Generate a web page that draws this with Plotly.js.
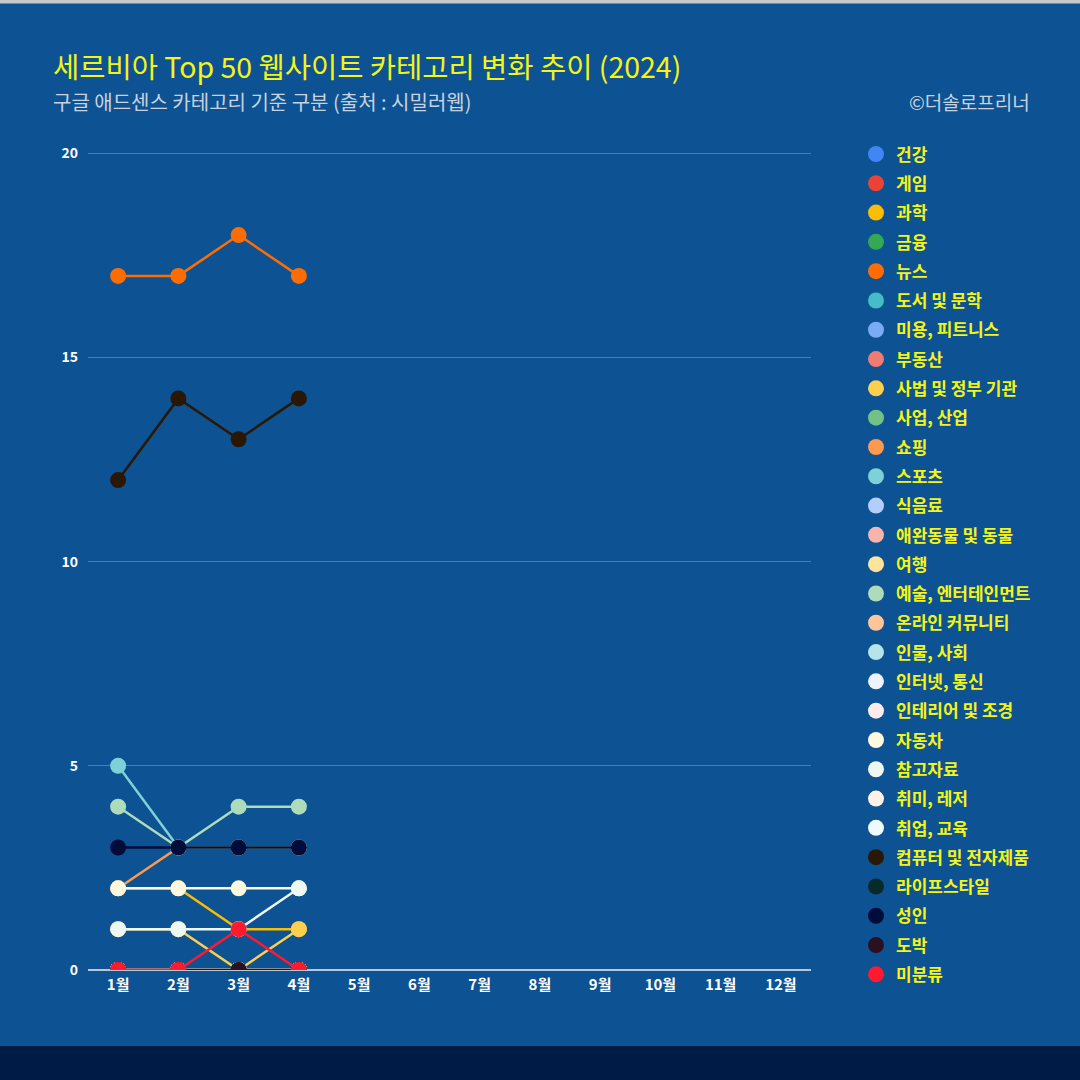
<!DOCTYPE html>
<html>
<head>
<meta charset="utf-8">
<script src="https://cdn.plot.ly/plotly-3.0.1.min.js"></script>
<style>
html,body{margin:0;padding:0;background:#0d5292;}
#chart{width:1080px;height:1080px;}
</style>
</head>
<body>
<div id="chart"></div>
<script>
const months = ["1월","2월","3월","4월","5월","6월","7월","8월","9월","10월","11월","12월"];
const categories = ["건강","게임","과학","금융","뉴스","도서 및 문학","미용, 피트니스","부동산","사법 및 정부 기관","사업, 산업","쇼핑","스포츠","식음료","애완동물 및 동물","여행","예술, 엔터테인먼트","온라인 커뮤니티","인물, 사회","인터넷, 통신","인테리어 및 조경","자동차","참고자료","취미, 레저","취업, 교육","컴퓨터 및 전자제품","라이프스타일","성인","도박","미분류"];
const colors = ["#4285f4","#ea4335","#fbbc04","#34a853","#ff6d01","#46bdc6","#7baaf7","#f07b72","#fcd04f","#71c287","#ff994d","#7ed1d7","#b3cefb","#f7b4ae","#fde49b","#aedcba","#ffc599","#b5e5e8","#ecf3fe","#fdeceb","#fff8e1","#eef7f1","#fff0ea","#eefafc","#2a1805","#082a2a","#000c3a","#2c1020","#ff1a2e"];

const v_건강 = [0,0,0,0];
const v_게임 = [0,0,0,0];
const v_과학 = [2,2,1,1];
const v_금융 = [0,0,0,0];
const v_뉴스 = [17,17,18,17];
const v_도서 = [0,0,0,0];
const v_미용 = [0,0,0,0];
const v_부동산 = [0,0,0,0];
const v_사법 = [1,1,0,1];
const v_사업 = [0,0,0,0];
const v_쇼핑 = [2,3,3,3];
const v_스포츠 = [5,3,3,3];
const v_식음료 = [0,0,0,0];
const v_애완 = [0,0,0,0];
const v_여행 = [0,0,0,0];
const v_예술 = [4,3,4,4];
const v_온라인 = [0,0,0,0];
const v_인물 = [0,0,0,0];
const v_인터넷 = [0,0,0,0];
const v_인테리어 = [0,0,0,0];
const v_자동차 = [2,2,2,2];
const v_참고자료 = [1,1,1,2];
const v_취미 = [0,0,0,0];
const v_취업 = [0,0,0,0];
const v_컴퓨터 = [12,14,13,14];
const v_라이프 = [0,0,0,0];
const v_성인 = [3,3,3,3];
const v_도박 = [0,0,0,0];
const v_미분류 = [0,0,1,0];

const values = [v_건강,v_게임,v_과학,v_금융,v_뉴스,v_도서,v_미용,v_부동산,v_사법,v_사업,v_쇼핑,v_스포츠,v_식음료,v_애완,v_여행,v_예술,v_온라인,v_인물,v_인터넷,v_인테리어,v_자동차,v_참고자료,v_취미,v_취업,v_컴퓨터,v_라이프,v_성인,v_도박,v_미분류];

const FONT = "'Noto Sans CJK KR', 'Noto Sans', sans-serif";

const traces = [];
categories.forEach((name,i)=>{
  const xs = months.slice(0, values[i].length);
  traces.push({
    type:"scatter", mode:"lines", name:name, legendgroup:"g"+i, showlegend:false,
    x: xs, y: values[i],
    line:{color:colors[i], width:2.5}
  });
  traces.push({
    type:"scatter", mode:"markers", name:name, legendgroup:"g"+i, showlegend:true,
    x: xs, y: values[i],
    marker:{color:colors[i], size:16}
  });
});

const L = 88, R = 811, B = 970;
const YMAX = 20.5;
const UNIT = (970-153)/20;
const T = B - YMAX*UNIT;
const PW = R-L, PH = B-T;
const px = x => (x-L)/PW;
const py = y => (B-y)/PH;

const layout = {
  width:1080, height:1080,
  paper_bgcolor:"#0d5292",
  plot_bgcolor:"#0d5292",
  margin:{l:L, r:1080-R, t:T, b:1080-B, pad:0},
  font:{family:FONT, color:"#ffffff"},
  showlegend:true,
  legend:{
    x:px(856), xanchor:"left",
    y:py(136), yanchor:"top",
    bgcolor:"rgba(0,0,0,0)",
    font:{family:FONT, size:17, color:"#f4f418", weight:"bold"},
    tracegroupgap:4.2,
    itemwidth:30,
    maxheight:980
  },
  xaxis:{
    type:"category",
    categoryorder:"array",
    categoryarray:months,
    range:[-0.5,11.5],
    showgrid:false,
    zeroline:false,
    showline:false,
    ticks:"",
    ticklabelstandoff:4,
    tickfont:{family:FONT, size:15, color:"#ffffff", weight:"bold"},
    fixedrange:true
  },
  yaxis:{
    range:[0,YMAX],
    tickvals:[0,5,10,15,20],
    showgrid:true,
    gridcolor:"rgba(120,170,220,0.5)",
    gridwidth:1,
    zeroline:true,
    zerolinecolor:"#b8c8dc",
    zerolinewidth:2,
    showline:false,
    ticks:"",
    ticklabelstandoff:9,
    tickfont:{family:FONT, size:14, color:"#ffffff", weight:"bold"},
    fixedrange:true
  },
  annotations:[
    {text:"세르비아 Top 50 웹사이트 카테고리 변화 추이 (2024)", xref:"paper", yref:"paper",
     x:px(51), y:py(65), xanchor:"left", yanchor:"middle", showarrow:false,
     font:{family:FONT, size:28.5, color:"#f4f418"}},
    {text:"구글 애드센스 카테고리 기준 구분 (출처 : 시밀러웹)", xref:"paper", yref:"paper",
     x:px(51), y:py(101), xanchor:"left", yanchor:"middle", showarrow:false,
     font:{family:FONT, size:20, color:"#c9d2de"}},
    {text:"©더솔로프리너", xref:"paper", yref:"paper",
     x:px(1032), y:py(101), xanchor:"right", yanchor:"middle", showarrow:false,
     font:{family:FONT, size:19, color:"#c9d2de"}}
  ],
  shapes:[
    {type:"rect", xref:"paper", yref:"paper", x0:px(0), x1:px(1080), y0:py(1046), y1:py(1082),
     fillcolor:"#001b46", line:{width:0}, layer:"below"},
    {type:"rect", xref:"paper", yref:"paper", x0:px(0), x1:px(1080), y0:py(3), y1:py(-2),
     fillcolor:"#c8c8c8", line:{width:0}, layer:"below"}
  ]
};

Plotly.newPlot("chart", traces, layout, {displayModeBar:false, staticPlot:true});
</script>
</body>
</html>
